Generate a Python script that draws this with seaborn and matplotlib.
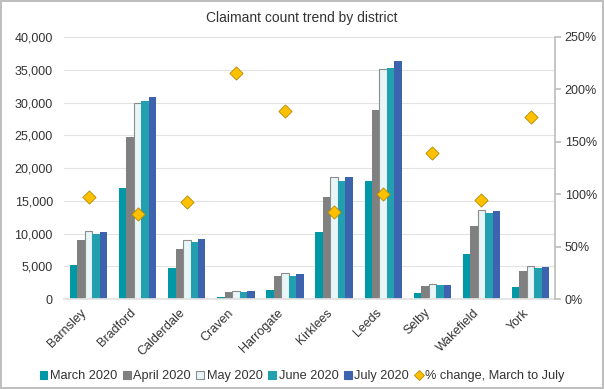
import numpy as np
import pandas as pd
import matplotlib
matplotlib.use("Agg")
import matplotlib.pyplot as plt
from matplotlib.patches import Patch
from matplotlib.lines import Line2D
from matplotlib.ticker import FuncFormatter, MultipleLocator
from matplotlib.transforms import ScaledTranslation
import seaborn as sns

districts = ["Barnsley", "Bradford", "Calderdale", "Craven", "Harrogate",
             "Kirklees", "Leeds", "Selby", "Wakefield", "York"]
months = ["March 2020", "April 2020", "May 2020", "June 2020", "July 2020"]
march = [5200, 17000, 4700, 400, 1380, 10200, 18100, 870, 6850, 1840]
april = [9000, 24800, 7600, 1100, 3570, 15600, 28900, 2000, 11200, 4300]
may = [10450, 29950, 9000, 1300, 3930, 18700, 35050, 2250, 13600, 5100]
june = [9950, 30200, 8700, 1150, 3600, 18100, 35200, 2100, 13100, 4750]
july = [10200, 30800, 9100, 1250, 3800, 18700, 36300, 2150, 13400, 4950]
pct_change = [97, 81, 93, 216, 179, 83, 100, 139, 95, 174]

colors = ["#0097A7", "#808080", "#E8F6F8", "#22A0B0", "#3D62AE"]
diamond_color = "#FFC000"

sns.set_theme(style="white")
plt.rcParams["font.family"] = ["Liberation Sans", "DejaVu Sans"]

df = pd.DataFrame({
    "district": np.repeat(districts, len(months)),
    "month": months * len(districts),
    "count": np.column_stack([march, april, may, june, july]).ravel(),
})

fig = plt.figure(figsize=(6.04, 3.89), dpi=100)
fig.patch.set_facecolor("white")
fig.patch.set_edgecolor("#BFBFBF")
fig.patch.set_linewidth(1.5)
ax = fig.add_axes([0.106, 0.231, 0.813, 0.674])

sns.barplot(data=df, x="district", y="count", hue="month", order=districts,
            hue_order=months, palette=colors, width=0.76, gap=0,
            saturation=1, ax=ax, legend=False, linewidth=0)
for bar in ax.containers[2]:
    bar.set_edgecolor("#8C8C8C")
    bar.set_linewidth(0.8)

ax.set_ylim(0, 40000)
ax.set_xlim(-0.5, len(districts) - 0.5)
ax.yaxis.set_major_locator(MultipleLocator(5000))
ax.yaxis.set_major_formatter(FuncFormatter(lambda v, p: f"{int(v):,}"))
ax.grid(axis="y", color="#E3E3E3", linewidth=0.8)
ax.set_axisbelow(True)
for s in ["top", "right", "left"]:
    ax.spines[s].set_visible(False)
ax.spines["bottom"].set_color("#E3E3E3")
ax.set_xlabel("")
ax.set_ylabel("")
ax.tick_params(axis="y", labelsize=9, colors="#333333", length=0, pad=8)
ax.tick_params(axis="x", labelsize=9, colors="#333333", length=0, pad=4)
shift = ScaledTranslation(-8 / 100, -2 / 100, fig.dpi_scale_trans)
for lbl in ax.get_xticklabels():
    lbl.set_rotation(45)
    lbl.set_ha("right")
    lbl.set_rotation_mode("anchor")
    lbl.set_transform(lbl.get_transform() + shift)

ax2 = ax.twinx()
sns.scatterplot(x=np.arange(len(districts)), y=pct_change, ax=ax2,
                marker="D", s=45, color=diamond_color, edgecolor="#B58A00",
                linewidth=0.6, zorder=5)
ax2.set_ylim(0, 250)
ax2.yaxis.set_major_locator(MultipleLocator(50))
ax2.yaxis.set_major_formatter(FuncFormatter(lambda v, p: f"{int(v)}%"))
for s in ["top", "left", "bottom"]:
    ax2.spines[s].set_visible(False)
ax2.spines["right"].set_color("#BFBFBF")
ax2.tick_params(axis="y", labelsize=9, colors="#333333", length=4,
                color="#BFBFBF", direction="out", pad=3)
ax2.set_xlim(-0.5, len(districts) - 0.5)
ax2.grid(False)

fig.text(0.5, 0.955, "Claimant count trend by district", ha="center",
         va="center", fontsize=10, color="#333333")

handles = [Patch(facecolor=c, edgecolor=("#8C8C8C" if i == 2 else c),
                 linewidth=0.8) for i, c in enumerate(colors)]
handles.append(Line2D([], [], marker="D", linestyle="", markersize=5,
                      markerfacecolor=diamond_color,
                      markeredgecolor="#B58A00", markeredgewidth=0.6))
labels = months + ["% change, March to July"]
fig.legend(handles, labels, loc="center", bbox_to_anchor=(0.5, 0.033),
           ncol=6, frameon=False, fontsize=9.2, handlelength=0.6,
           handleheight=0.6, handletextpad=0.2, columnspacing=0.45,
           labelcolor="#333333")

fig.savefig("out.png", dpi=100)
